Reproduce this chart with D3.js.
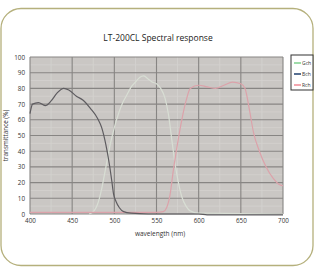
<!DOCTYPE html>
<html>
<head>
<meta charset="utf-8">
<script src="https://cdn.jsdelivr.net/npm/d3@7"></script>
<style>
  body { margin: 0; background: #fff; }
  svg { display: block; }
  text { font-family: "Open Sans", "DejaVu Sans", sans-serif; }
</style>
</head>
<body>
<svg width="315" height="268"></svg>
<script>
// channel curves, [wavelength nm, transmittance %]
var bch = [[400,64],[403,70],[410,71],[418,69],[425,72],[432,77],[440,80],[446,79],[455,75],[463,72.5],[472,67],[480,61],[485,55],[490,44],[494,32],[497,21],[499,13],[502,8],[506,4],[511,1.5],[520,0.5],[540,0],[600,0],[610,-0.5],[700,-0.5]];
var gch = [[470,0],[476,2],[480,6],[485,16],[490,30],[495,44],[500,55],[505,64],[510,71],[515,76],[520,81],[525,84],[530,87],[535,88],[540,86],[545,84],[550,83],[555,80],[560,74],[564,64],[568,48],[572,32],[576,20],[580,11],[585,5],[590,2],[600,0.5],[700,0]];
var rch = [[400,1],[540,1],[550,1],[558,1.5],[562,4],[566,12],[570,28],[575,45],[580,60],[585,72],[590,80],[600,82],[610,81],[620,80],[630,82],[640,84],[650,83],[655,80],[660,67],[665,52],[672,40],[680,30],[688,23],[695,19],[700,18]];
var xTicks = [400,450,500,550,600,650,700];
var yTicks = [0,10,20,30,40,50,60,70,80,90,100];
var legendNames = ["Gch","Bch","Rch"];
var legendColors = ["#7fd08e","#1f3f6e","#f08a96"];

var svg = d3.select("svg");

// rounded frame
svg.append("rect")
    .attr("x", 1).attr("y", 8.5)
    .attr("width", 312).attr("height", 257)
    .attr("rx", 20).attr("ry", 20)
    .attr("fill", "#fff")
    .attr("stroke", "#b5b07c")
    .attr("stroke-width", 1.3);

var x = d3.scaleLinear().domain([400, 700]).range([30, 283]);
var y = d3.scaleLinear().domain([0, 100]).range([214, 57]);

// plot background
svg.append("rect")
    .attr("x", x(400)).attr("y", y(100))
    .attr("width", x(700) - x(400)).attr("height", y(0) - y(100))
    .attr("fill", "#cac7c4");

// minor grid
var g = svg.append("g");
g.selectAll(".mx").data(d3.range(425, 700, 50)).enter().append("line")
    .attr("x1", d => x(d)).attr("x2", d => x(d))
    .attr("y1", y(100)).attr("y2", y(0))
    .attr("stroke", "#d6d4d1").attr("stroke-width", 0.8);
g.selectAll(".my").data(d3.range(5, 100, 10)).enter().append("line")
    .attr("x1", x(400)).attr("x2", x(700))
    .attr("y1", d => y(d)).attr("y2", d => y(d))
    .attr("stroke", "#d4d2cf").attr("stroke-width", 0.8);

// major grid
g.selectAll(".gx").data(xTicks).enter().append("line")
    .attr("x1", d => x(d)).attr("x2", d => x(d))
    .attr("y1", y(100)).attr("y2", y(0))
    .attr("stroke", "#878583").attr("stroke-width", 1.1);
g.selectAll(".gy").data(yTicks).enter().append("line")
    .attr("x1", x(400)).attr("x2", x(700))
    .attr("y1", d => y(d)).attr("y2", d => y(d))
    .attr("stroke", "#878583").attr("stroke-width", 1.1);

var line = d3.line()
    .x(d => x(d[0]))
    .y(d => y(d[1]))
    .curve(d3.curveMonotoneX);

svg.append("path").datum(gch).attr("d", line)
    .attr("fill", "none").attr("stroke", "#d8ded4").attr("stroke-width", 1.2);
svg.append("path").datum(rch).attr("d", line)
    .attr("fill", "none").attr("stroke", "#dca2aa").attr("stroke-width", 1.2);
svg.append("path").datum(bch).attr("d", line)
    .attr("fill", "none").attr("stroke", "#5e5c60").attr("stroke-width", 1.2);

// axes
var xAxis = svg.append("g")
    .attr("transform", "translate(0," + (y(0) + 3) + ")")
    .call(d3.axisBottom(x).tickValues(xTicks).tickSize(0).tickPadding(2));
var yAxis = svg.append("g")
    .attr("transform", "translate(" + (x(400) - 3) + ",0)")
    .call(d3.axisLeft(y).tickValues(yTicks).tickSize(0).tickPadding(2));
[xAxis, yAxis].forEach(function(a) {
    a.select(".domain").remove();
    a.selectAll("text")
        .attr("font-size", 6.3)
        .attr("fill", "#333")
        .style("font-family", "'Open Sans', sans-serif");
});

svg.append("text")
    .attr("x", 158).attr("y", 41)
    .attr("text-anchor", "middle")
    .attr("font-size", 8.5)
    .attr("fill", "#222")
    .text("LT-200CL Spectral response");

svg.append("text")
    .attr("x", 160).attr("y", 236)
    .attr("text-anchor", "middle")
    .attr("font-size", 6.5)
    .attr("fill", "#333")
    .text("wavelength (nm)");

svg.append("text")
    .attr("transform", "translate(8," + y(50) + ") rotate(-90)")
    .attr("text-anchor", "middle")
    .attr("font-size", 6.3)
    .attr("fill", "#333")
    .text("transmittance (%)");

// legend
var lg = svg.append("g").attr("transform", "translate(291,55)");
lg.append("rect")
    .attr("width", 22).attr("height", 35)
    .attr("fill", "#fff")
    .attr("stroke", "#333").attr("stroke-width", 1);
var item = lg.selectAll(".item").data(legendNames).enter().append("g")
    .attr("transform", (d, i) => "translate(0," + (8 + i * 11) + ")");
item.append("line")
    .attr("x1", 3).attr("x2", 10)
    .attr("stroke", (d, i) => legendColors[i]).attr("stroke-width", 1.5);
item.append("text")
    .attr("x", 11).attr("y", 2)
    .attr("font-size", 5)
    .attr("fill", "#333")
    .text(d => d);
</script>
</body>
</html>
